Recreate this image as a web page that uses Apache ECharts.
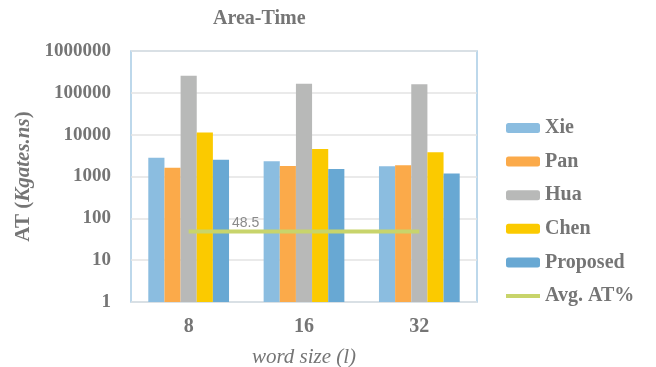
<!DOCTYPE html>
<html>
<head>
<meta charset="utf-8">
<script src="https://cdn.jsdelivr.net/npm/echarts@6/dist/echarts.min.js"></script>
<style>
  html, body { margin: 0; padding: 0; background: #fff; }
  #chart { width: 656px; height: 367px; }
</style>
</head>
<body>
<div id="chart"></div>
<script>
// Word sizes on the category axis
const wordSizes = ['8', '16', '32'];

// Area-time product (Kgates.ns) per design
const xie      = [2790, 2320, 1760];
const pan      = [1610, 1790, 1860];
const hua      = [255000, 164000, 161000];
const chen     = [11200, 4570, 3800];
const proposed = [2500, 1515, 1175];

// Average AT improvement (%)
const avgAT = [48.5, 48.5, 48.5];

const serif = '"Liberation Serif", "Times New Roman", serif';
const grey = '#757575';

const chart = echarts.init(document.getElementById('chart'));

function barSeries(name, data, color) {
  return {
    name: name,
    type: 'bar',
    data: data,
    barGap: '0%',
    barCategoryGap: '30%',
    itemStyle: { color: color },
    z: 2
  };
}

chart.setOption({
  animation: false,
  title: {
    text: 'Area-Time',
    left: 208,
    top: 4,
    textStyle: { fontFamily: serif, fontWeight: 'bold', fontSize: 20, color: grey }
  },
  grid: {
    left: 131, top: 51, width: 346, height: 251,
    show: true, borderColor: '#a8cbe5', borderWidth: 1.5,
    containLabel: false,
    outerBoundsMode: 'none'
  },
  legend: {
    orient: 'vertical',
    left: 499,
    top: 113,
    itemWidth: 34,
    itemHeight: 10,
    itemGap: 13.6,
    textStyle: { fontFamily: serif, fontWeight: 'bold', fontSize: 20, color: grey, lineHeight: 20 },
    data: [
      'Xie', 'Pan', 'Hua', 'Chen', 'Proposed',
      { name: 'Avg. AT%', itemStyle: { opacity: 0 }, lineStyle: { width: 4, color: '#c8d46b' } }
    ]
  },
  xAxis: {
    type: 'category',
    data: wordSizes,
    axisLine: { show: false },
    axisTick: { show: false },
    axisLabel: { fontFamily: serif, fontWeight: 'bold', fontSize: 20, color: grey, margin: 15 },
    name: 'word size (l)',
    nameLocation: 'middle',
    nameGap: 45,
    nameTextStyle: { fontFamily: serif, fontStyle: 'italic', fontSize: 21, color: grey }
  },
  yAxis: {
    type: 'log',
    logBase: 10,
    min: 1,
    max: 1000000,
    axisLine: { show: false },
    axisTick: { show: false },
    splitLine: { lineStyle: { color: '#e3e3e3', width: 1.5 } },
    axisLabel: {
      fontFamily: serif, fontWeight: 'bold', fontSize: 19, color: grey, margin: 20,
      formatter: v => String(Math.round(v))
    },
    name: '{b|AT (}{bi|Kgates.ns}{b|)}',
    nameLocation: 'middle',
    nameGap: 97,
    nameRotate: 90,
    nameTextStyle: {
      rich: {
        b: { fontFamily: serif, fontWeight: 'bold', fontSize: 21, color: grey },
        bi: { fontFamily: serif, fontWeight: 'bold', fontStyle: 'italic', fontSize: 21, color: grey }
      }
    }
  },
  series: [
    barSeries('Xie', xie, '#8bbde0'),
    barSeries('Pan', pan, '#fbaa4a'),
    barSeries('Hua', hua, '#b8b9b8'),
    barSeries('Chen', chen, '#fbca00'),
    barSeries('Proposed', proposed, '#68a8d3'),
    {
      name: 'Avg. AT%',
      type: 'line',
      data: avgAT.map((v, i) => ({
        value: v,
        label: {
          show: i === 0,
          position: 'top',
          offset: [57, 4],
          formatter: '{c}',
          fontFamily: '"Liberation Sans", Arial, sans-serif',
          fontSize: 14,
          color: '#8a8a8a'
        }
      })),
      symbol: 'circle',
      symbolSize: 0,
      showSymbol: true,
      lineStyle: { color: '#c8d46b', width: 4 },
      itemStyle: { color: '#c8d46b' },
      z: 5
    }
  ]
});
</script>
</body>
</html>
